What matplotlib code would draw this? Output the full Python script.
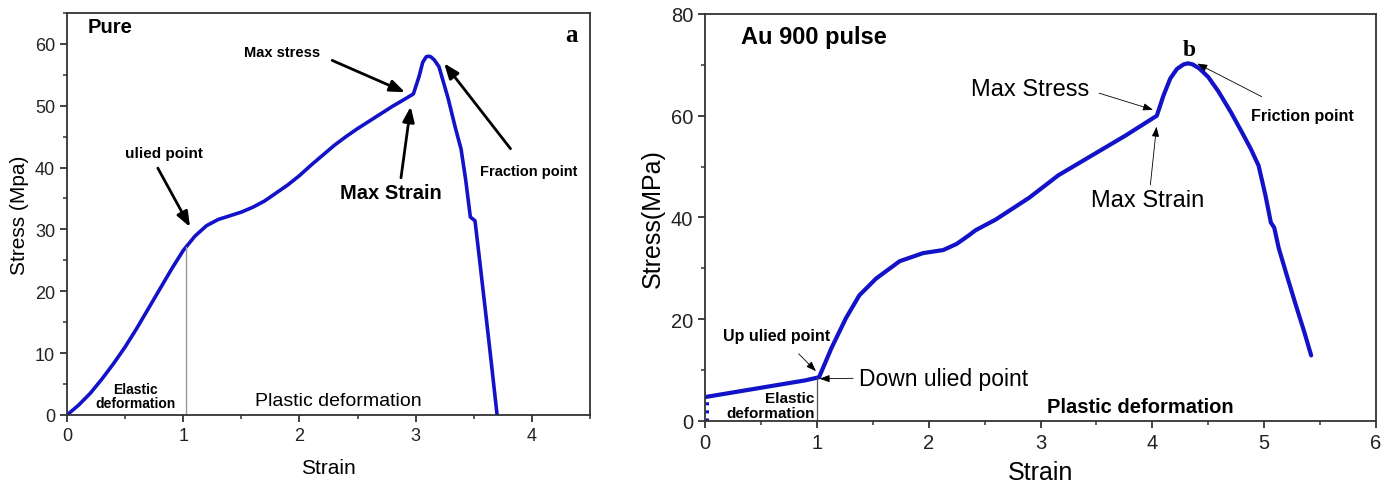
import matplotlib
matplotlib.use('Agg')
import matplotlib.pyplot as plt

# panel a: Pure
pure_strain = [0.0, 0.1, 0.2, 0.3, 0.4, 0.5, 0.6, 0.7, 0.8, 0.9, 1.0, 1.1, 1.2, 1.3, 1.4,
               1.5, 1.6, 1.7, 1.8, 1.9, 2.0, 2.1, 2.2, 2.3, 2.4, 2.5, 2.6, 2.7, 2.8, 2.9,
               2.98, 3.03, 3.06, 3.09, 3.11, 3.13, 3.16, 3.2, 3.28, 3.34, 3.39, 3.43, 3.47,
               3.51, 3.55, 3.6, 3.65, 3.7]
pure_stress = [0.0, 1.6, 3.5, 5.8, 8.3, 11.0, 14.0, 17.2, 20.4, 23.6, 26.6, 28.9, 30.6, 31.6, 32.2,
               32.8, 33.6, 34.6, 35.9, 37.2, 38.7, 40.4, 42.0, 43.6, 45.0, 46.3, 47.5, 48.7, 49.9, 51.0,
               51.9, 54.8, 57.0, 57.9, 58.0, 57.9, 57.4, 56.3, 51.1, 46.5, 43.0, 38.0, 32.0,
               31.4, 25.0, 16.8, 8.5, 0.0]

# panel b: Au 900 pulse
au_strain = [0.0, 0.3, 0.6, 0.9, 1.02, 1.13, 1.26, 1.38, 1.53, 1.74, 1.95, 2.13, 2.25,
             2.36, 2.42, 2.6, 2.9, 3.16, 3.46, 3.76, 4.04, 4.1, 4.16, 4.22, 4.28, 4.32,
             4.36, 4.42, 4.5, 4.59, 4.7, 4.8, 4.88, 4.95, 5.01, 5.06, 5.09, 5.13, 5.2,
             5.28, 5.36, 5.42]
au_stress = [4.7, 5.8, 6.9, 8.0, 8.6, 14.3, 20.2, 24.7, 28.0, 31.4, 33.0, 33.6, 34.8,
             36.5, 37.5, 39.6, 43.9, 48.3, 52.2, 56.1, 60.0, 64.0, 67.3, 69.2, 70.1, 70.3,
             70.1, 69.3, 67.6, 64.8, 60.8, 56.8, 53.5, 50.2, 44.5, 39.0, 38.0, 34.0, 28.8,
             23.0, 17.4, 12.9]

blue = '#1212c8'
plt.rcParams['font.family'] = ['Liberation Sans', 'DejaVu Sans']

fig = plt.figure(figsize=(13.93, 4.85), dpi=100)
ax1 = fig.add_axes([0.0481, 0.1423, 0.3755, 0.829])
ax2 = fig.add_axes([0.5061, 0.1299, 0.4817, 0.8392])

# ---- panel a ----
ax1.plot(pure_strain, pure_stress, color=blue, lw=2.6, solid_capstyle='round',
         solid_joinstyle='round')
ax1.plot([1.02, 1.02], [0, 27.2], color='#999999', lw=1.0)
ax1.set_xlim(0, 4.5)
ax1.set_ylim(0, 65)
ax1.set_xticks([0, 1, 2, 3, 4])
ax1.set_xticks([0.5, 1.5, 2.5, 3.5, 4.5], minor=True)
ax1.set_yticks([0, 10, 20, 30, 40, 50, 60])
ax1.set_yticks([5, 15, 25, 35, 45, 55, 65], minor=True)
ax1.set_xlabel('Strain', fontsize=15, labelpad=10)
ax1.set_ylabel('Stress (Mpa)', fontsize=15, labelpad=4)

ax1.text(0.18, 62.8, 'Pure', fontsize=14.5, fontweight='bold', va='center')
ax1.text(4.34, 61.5, 'a', fontsize=18, fontweight='bold', family='Liberation Serif',
         ha='center', va='center')
ax1.text(1.85, 58.7, 'Max stress', fontsize=10.5, fontweight='bold', ha='center', va='center')
ax1.text(0.83, 42.3, 'ulied point', fontsize=11, fontweight='bold', ha='center', va='center')
ax1.text(2.79, 36.0, 'Max Strain', fontsize=14.5, fontweight='bold', ha='center', va='center')
ax1.text(3.97, 39.5, 'Fraction point', fontsize=10.5, fontweight='bold', ha='center', va='center')
ax1.text(0.59, 3.1, 'Elastic\ndeformation', fontsize=10, fontweight='bold', ha='center',
         va='center', linespacing=1.05)
ax1.text(2.33, 2.4, 'Plastic deformation', fontsize=14, ha='center', va='center')

big_arrow = dict(arrowstyle='-|>,head_length=0.9,head_width=0.35', color='black', lw=2)
ax1.annotate('', xy=(2.93, 52.0), xytext=(2.26, 57.5), arrowprops=big_arrow)
ax1.annotate('', xy=(1.07, 30.0), xytext=(0.77, 40.3), arrowprops=big_arrow)
ax1.annotate('', xy=(2.96, 50.3), xytext=(2.87, 37.9), arrowprops=big_arrow)
ax1.annotate('', xy=(3.23, 57.2), xytext=(3.83, 42.7), arrowprops=big_arrow)

# ---- panel b ----
ax2.plot(au_strain, au_stress, color=blue, lw=3, solid_capstyle='round',
         solid_joinstyle='round')
ax2.plot([0.015, 0.015], [0, 4.0], color=blue, lw=2.2, ls=':')
ax2.plot([1.0, 1.0], [0, 8.4], color='#555555', lw=0.9)
ax2.set_xlim(0, 6)
ax2.set_ylim(0, 80)
ax2.set_xticks([0, 1, 2, 3, 4, 5, 6])
ax2.set_xticks([0.5, 1.5, 2.5, 3.5, 4.5, 5.5], minor=True)
ax2.set_yticks([0, 20, 40, 60, 80])
ax2.set_yticks([10, 30, 50, 70], minor=True)
ax2.set_xlabel('Strain', fontsize=18, labelpad=6)
ax2.set_ylabel('Stress(MPa)', fontsize=18, labelpad=4)

ax2.text(0.32, 75.5, 'Au 900 pulse', fontsize=17, fontweight='bold', va='center')
ax2.text(4.33, 73.0, 'b', fontsize=17, fontweight='bold', family='Liberation Serif',
         ha='center', va='center')
ax2.text(2.91, 65.2, 'Max Stress', fontsize=17, ha='center', va='center')
ax2.text(3.96, 43.4, 'Max Strain', fontsize=17, ha='center', va='center')
ax2.text(5.34, 60.1, 'Friction point', fontsize=11.5, fontweight='bold', ha='center', va='center')
ax2.text(0.64, 16.8, 'Up ulied point', fontsize=11.5, fontweight='bold', ha='center', va='center')
ax2.text(1.38, 8.4, 'Down ulied point', fontsize=16.5, ha='left', va='center')
ax2.text(0.98, 3.0, 'Elastic\ndeformation', fontsize=11, fontweight='bold', ha='right',
         va='center', multialignment='right', linespacing=1.05)
ax2.text(3.89, 2.8, 'Plastic deformation', fontsize=14.5, fontweight='bold',
         ha='center', va='center')

thin_arrow = dict(arrowstyle='-|>,head_length=0.6,head_width=0.22', color='black', lw=0.6)
ax2.annotate('', xy=(4.03, 61.0), xytext=(3.5, 64.6), arrowprops=thin_arrow)
ax2.annotate('', xy=(4.04, 58.4), xytext=(3.98, 45.9), arrowprops=thin_arrow)
ax2.annotate('', xy=(4.38, 70.5), xytext=(5.0, 63.5), arrowprops=thin_arrow)
ax2.annotate('', xy=(1.01, 9.4), xytext=(0.82, 13.6), arrowprops=thin_arrow)
ax2.annotate('', xy=(1.0, 8.3), xytext=(1.35, 8.4), arrowprops=thin_arrow)

for ax in (ax1, ax2):
    for s in ax.spines.values():
        s.set_linewidth(1.3)
        s.set_color('#333333')
    ax.tick_params(which='major', direction='out', length=5, width=1.3,
                   colors='#333333', labelcolor='#222222')
    ax.tick_params(which='minor', direction='out', length=3, width=1.1, colors='#333333')
ax1.tick_params(labelsize=13)
ax2.tick_params(labelsize=14.5)

fig.savefig('out.png', dpi=100)
